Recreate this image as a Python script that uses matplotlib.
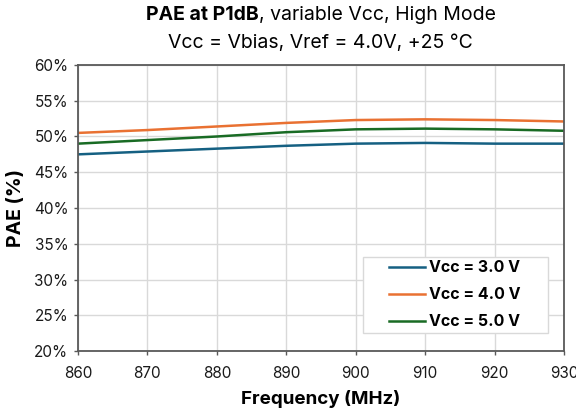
import matplotlib
matplotlib.use('Agg')
import matplotlib.pyplot as plt
from matplotlib.patches import Rectangle
from matplotlib.ticker import FuncFormatter

# Data
freq_mhz = [860, 870, 880, 890, 900, 910, 920, 930]
pae_vcc3 = [47.5, 47.9, 48.3, 48.7, 49.0, 49.1, 49.0, 49.0]
pae_vcc4 = [50.5, 50.9, 51.4, 51.9, 52.3, 52.4, 52.3, 52.1]
pae_vcc5 = [49.0, 49.5, 50.0, 50.6, 51.0, 51.1, 51.0, 50.8]
series_labels = ['Vcc = 3.0 V', 'Vcc = 4.0 V', 'Vcc = 5.0 V']

plt.rcParams['font.family'] = ['Inter', 'DejaVu Sans']

fig = plt.figure(figsize=(5.76, 4.15), dpi=100)
ax = fig.add_axes([0.1354, 0.1542, 0.8438, 0.6892])

colors = ['#156082', '#E97132', '#196B24']
for ys, lab, c in zip([pae_vcc3, pae_vcc4, pae_vcc5], series_labels, colors):
    ax.plot(freq_mhz, ys, color=c, lw=1.8, label=lab)

ax.set_xlim(860, 930)
ax.set_ylim(20, 60)
ax.set_xticks(range(860, 931, 10))
ax.set_yticks(range(20, 61, 5))
ax.yaxis.set_major_formatter(FuncFormatter(lambda v, p: f'{v:.0f}%'))
ax.grid(True, color='#d9d9d9', lw=1)
ax.set_axisbelow(True)
for s in ax.spines.values():
    s.set_color('#595959')
    s.set_linewidth(1.3)
ax.tick_params(length=3, width=1, direction='out', color='#595959',
               labelsize=11, colors='#595959', labelcolor='#1a1a1a')
ax.tick_params(axis='x', pad=8)
ax.tick_params(axis='y', pad=4)

ax.set_xlabel('Frequency (MHz)', fontsize=13.5, fontweight='bold', labelpad=6)
ax.set_ylabel('PAE (%)', fontsize=14, fontweight='bold', labelpad=6)

# title: bold lead-in followed by regular text, centred over the plot area
cx = 0.557
t1 = fig.text(0, 0.963, 'PAE at P1dB', fontsize=14, fontweight='bold', ha='left', va='center')
t2 = fig.text(0, 0.963, ', variable Vcc, High Mode', fontsize=14, ha='left', va='center')
fig.canvas.draw()
r = fig.canvas.get_renderer()
w1 = t1.get_window_extent(r).width / fig.bbox.width
w2 = t2.get_window_extent(r).width / fig.bbox.width
t1.set_x(cx - (w1 + w2) / 2)
t2.set_x(cx - (w1 + w2) / 2 + w1)
fig.text(cx, 0.896, 'Vcc = Vbias, Vref = 4.0V, +25 °C', fontsize=14, ha='center', va='center')

# legend box is wider than tall in the reference, so draw the frame separately
ax.add_patch(Rectangle((0.586, 0.063), 0.381, 0.266, transform=ax.transAxes,
                       facecolor='white', edgecolor='#d9d9d9', lw=1, zorder=4))
leg = ax.legend(loc='center', bbox_to_anchor=(0.776, 0.196), frameon=False,
                handlelength=2.2, handletextpad=0.3, borderpad=0.2,
                labelspacing=0.75, prop={'weight': 'bold', 'size': 11.5})
leg.set_zorder(5)

fig.savefig('out.png', dpi=100)
